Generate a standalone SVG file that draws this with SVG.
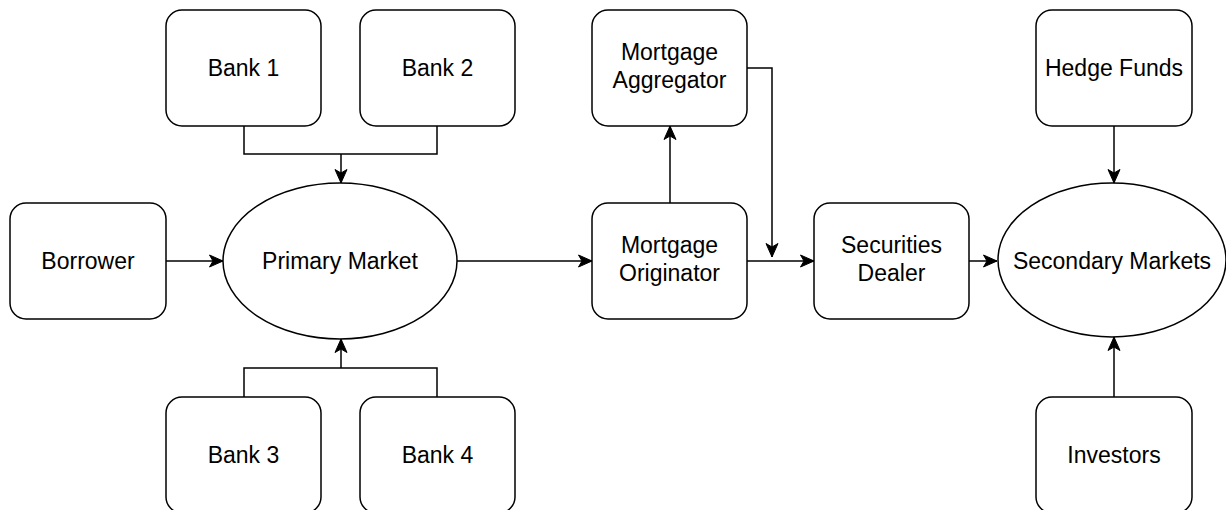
<svg xmlns="http://www.w3.org/2000/svg" width="1226" height="510" viewBox="0 0 1226 510">
  <style>
    .box { fill: #ffffff; stroke: #000000; stroke-width: 1.5; }
    .lbl { font-family: "Liberation Sans", Arial, sans-serif; font-size: 23px; fill: #000000; text-anchor: middle; }
    .edge { fill: none; stroke: #000000; stroke-width: 1.5; }
    .arrow { marker-end: url(#head); }
  </style>
  <defs>
    <marker id="head" markerUnits="userSpaceOnUse" markerWidth="16" markerHeight="14" viewBox="0 0 16 14" refX="15" refY="7" orient="auto">
      <path d="M1.5,1 L15,7 L1.5,13 L5,7 Z" fill="#000000" stroke="#000000" stroke-width="1"/>
    </marker>
  </defs>
  <rect width="1226" height="510" fill="#ffffff"/>

  <!-- connectors -->
  <g id="connectors">
    <path class="edge" d="M244,126 V154 H437 V126"/>
    <path class="edge arrow" d="M341,154 V183"/>
    <path class="edge" d="M244,397 V368 H437 V397"/>
    <path class="edge arrow" d="M341,368 V339"/>
    <path class="edge arrow" d="M166,261 H223"/>
    <path class="edge arrow" d="M457,261 H592"/>
    <path class="edge arrow" d="M670,203 V126"/>
    <path class="edge arrow" d="M747,68 H772 V257"/>
    <path class="edge arrow" d="M747,261 H814"/>
    <path class="edge arrow" d="M969,261 H997"/>
    <path class="edge arrow" d="M1114,126 V183"/>
    <path class="edge arrow" d="M1114,397 V337"/>
  </g>

  <g id="bank1">
    <rect class="box" x="166" y="10" width="155" height="116" rx="16"/>
    <text class="lbl" x="243.5" y="76">Bank 1</text>
  </g>
  <g id="bank2">
    <rect class="box" x="360" y="10" width="155" height="116" rx="16"/>
    <text class="lbl" x="437.5" y="76">Bank 2</text>
  </g>
  <g id="bank3">
    <rect class="box" x="166" y="397" width="155" height="116" rx="16"/>
    <text class="lbl" x="243.5" y="463">Bank 3</text>
  </g>
  <g id="bank4">
    <rect class="box" x="360" y="397" width="155" height="116" rx="16"/>
    <text class="lbl" x="437.5" y="463">Bank 4</text>
  </g>
  <g id="borrower">
    <rect class="box" x="10" y="203" width="156" height="116" rx="16"/>
    <text class="lbl" x="88" y="269">Borrower</text>
  </g>
  <g id="primary-market">
    <ellipse class="box" cx="340" cy="261" rx="117" ry="78"/>
    <text class="lbl" x="340" y="269">Primary Market</text>
  </g>
  <g id="mortgage-aggregator">
    <rect class="box" x="592" y="10" width="155" height="116" rx="16"/>
    <text class="lbl" x="669.5" y="60">Mortgage</text>
    <text class="lbl" x="669.5" y="88">Aggregator</text>
  </g>
  <g id="mortgage-originator">
    <rect class="box" x="592" y="203" width="155" height="116" rx="16"/>
    <text class="lbl" x="669.5" y="253">Mortgage</text>
    <text class="lbl" x="669.5" y="281">Originator</text>
  </g>
  <g id="securities-dealer">
    <rect class="box" x="814" y="203" width="155" height="116" rx="16"/>
    <text class="lbl" x="891.5" y="253">Securities</text>
    <text class="lbl" x="891.5" y="281">Dealer</text>
  </g>
  <g id="secondary-markets">
    <ellipse class="box" cx="1112" cy="260" rx="114" ry="77"/>
    <text class="lbl" x="1112" y="269">Secondary Markets</text>
  </g>
  <g id="hedge-funds">
    <rect class="box" x="1036" y="10" width="156" height="116" rx="16"/>
    <text class="lbl" x="1114" y="76">Hedge Funds</text>
  </g>
  <g id="investors">
    <rect class="box" x="1036" y="397" width="156" height="116" rx="16"/>
    <text class="lbl" x="1114" y="463">Investors</text>
  </g>
</svg>
